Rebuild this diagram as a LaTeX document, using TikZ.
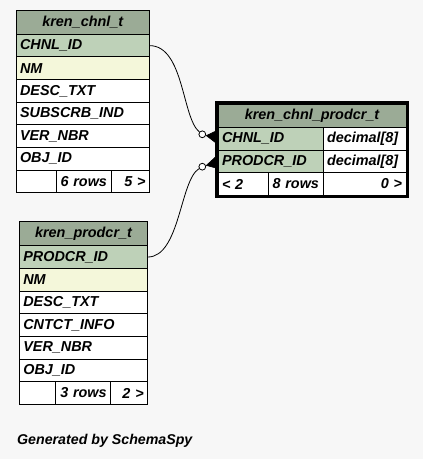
\documentclass[tikz,border=0pt]{standalone}
\usepackage{fontspec}
\setmainfont{Liberation Sans}
\definecolor{hdr}{HTML}{9BAB96}
\definecolor{pk}{HTML}{BED1B8}
\definecolor{idx}{HTML}{F4F7DA}
\definecolor{bgc}{HTML}{F7F7F7}
\newcommand\tfont{\fontsize{14.4}{16}\selectfont\bfseries\itshape}
\tikzset{
  cell/.style={draw=black, line width=1pt, inner xsep=4pt, inner ysep=0pt, outer sep=0pt, font=\tfont},
  optdot/.style={circle, draw=black, fill=white, line width=0.8pt, inner sep=0pt, minimum size=6.8pt},
  rel/.style={draw=black, line width=0.8pt},
  crow/.style={fill=black, draw=black, line width=0.6pt}
}
% name, x1, y1, x2, y2, fill, align, text
\newcommand\mkcell[8]{%
  \pgfmathsetmacro\cw{#4-#2}\pgfmathsetmacro\ch{#5-#3}\pgfmathsetmacro\tw{#4-#2-8}%
  \node[cell, fill=#6, minimum width=\cw pt, minimum height=\ch pt, text width=\tw pt, align=#7] (#1) at ({(#2+#4)/2},{(#3+#5)/2}) {#8};}
\begin{document}
\begin{tikzpicture}[x=1pt,y=-1pt]
\path[fill=bgc, use as bounding box] (0,0) rectangle (423,459);

% ---- kren_chnl_t ----
\mkcell{t1h}{16}{10.7}{149.5}{34.3}{hdr}{center}{kren\_chnl\_t}
\mkcell{t1r1}{16}{34.3}{149.5}{56.93}{pk}{left}{CHNL\_ID}
\mkcell{t1r2}{16}{56.93}{149.5}{79.56}{idx}{left}{NM}
\mkcell{t1r3}{16}{79.56}{149.5}{102.19}{white}{left}{DESC\_TXT}
\mkcell{t1r4}{16}{102.19}{149.5}{124.82}{white}{left}{SUBSCRB\_IND}
\mkcell{t1r5}{16}{124.82}{149.5}{147.45}{white}{left}{VER\_NBR}
\mkcell{t1r6}{16}{147.45}{149.5}{170.08}{white}{left}{OBJ\_ID}
\mkcell{t1f1}{16}{170.08}{56}{192.7}{white}{left}{}
\mkcell{t1f2}{56}{170.08}{111}{192.7}{white}{right}{6 rows}
\mkcell{t1f3}{111}{170.08}{149.5}{192.7}{white}{right}{5 >}

% ---- kren_prodcr_t ----
\mkcell{t2h}{19.3}{221.7}{147.7}{245.7}{hdr}{center}{kren\_prodcr\_t}
\mkcell{t2r1}{19.3}{245.7}{147.7}{268.36}{pk}{left}{PRODCR\_ID}
\mkcell{t2r2}{19.3}{268.36}{147.7}{291.03}{idx}{left}{NM}
\mkcell{t2r3}{19.3}{291.03}{147.7}{313.69}{white}{left}{DESC\_TXT}
\mkcell{t2r4}{19.3}{313.69}{147.7}{336.36}{white}{left}{CNTCT\_INFO}
\mkcell{t2r5}{19.3}{336.36}{147.7}{359.0}{white}{left}{VER\_NBR}
\mkcell{t2r6}{19.3}{359.0}{147.7}{381.67}{white}{left}{OBJ\_ID}
\mkcell{t2f1}{19.3}{381.67}{55.7}{404.3}{white}{left}{}
\mkcell{t2f2}{55.7}{381.67}{110.7}{404.3}{white}{right}{3 rows}
\mkcell{t2f3}{110.7}{381.67}{147.7}{404.3}{white}{right}{2 >}

% ---- kren_chnl_prodcr_t ----
\mkcell{t3h}{218}{104}{406}{127.5}{hdr}{center}{kren\_chnl\_prodcr\_t}
\mkcell{t3r1}{218}{127.5}{323}{150.1}{pk}{left}{CHNL\_ID}
\mkcell{t3r1t}{323}{127.5}{406}{150.1}{white}{left}{decimal[8]}
\mkcell{t3r2}{218}{150.1}{323}{172.7}{pk}{left}{PRODCR\_ID}
\mkcell{t3r2t}{323}{150.1}{406}{172.7}{white}{left}{decimal[8]}
\mkcell{t3f1}{218}{172.7}{268}{195.3}{white}{left}{< 2}
\mkcell{t3f2}{268}{172.7}{323}{195.3}{white}{right}{8 rows}
\mkcell{t3f3}{323}{172.7}{406}{195.3}{white}{right}{0 >}
\draw[line width=3pt] (216.5,102.5) rectangle (407.5,196.8);

% ---- relationships ----
\node[optdot] (o1) at (202.3,134.3) {};
\node[optdot] (o2) at (202.3,166.7) {};
\fill[crow] (206.3,135.6) -- (216,131) -- (216,143) -- cycle;
\fill[crow] (206.3,165.4) -- (216,156.5) -- (216,168) -- cycle;
\draw[rel] (t1r1.east) .. controls (184,45.6) and (182,118) .. (o1);
\draw[rel] (t2r1.east) .. controls (180,257) and (180,180) .. (o2);

% ---- footer ----
\node[anchor=base west, inner sep=0pt, font=\fontsize{14.2}{16}\selectfont\bfseries\itshape] (gen) at (17,444) {Generated by SchemaSpy};
\end{tikzpicture}
\end{document}
